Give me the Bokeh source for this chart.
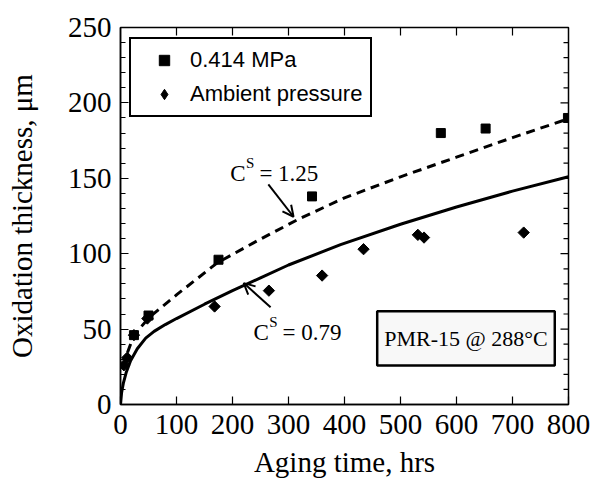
import numpy as np
from bokeh.plotting import figure
from bokeh.models import (Range1d, LinearAxis, SingleIntervalTicker, Legend, LegendItem,
                          Arrow, OpenHead, Label, BoxAnnotation)
from bokeh.embed import file_html
from bokeh.resources import INLINE

# ---------------- data ----------------
mpa_time = [24, 50, 175, 342, 572, 652, 799]
mpa_thick = [46, 59, 96, 138, 180, 183, 190]
amb_time = [6, 12, 24, 48, 168, 265, 360, 434, 531, 542, 720]
amb_thick = [26, 31, 46, 57, 65, 75.5, 85.5, 103, 112.5, 110.7, 114]
fit_low_time = [0, 2, 5, 10, 18, 30, 45, 60, 80, 100, 150, 200, 250, 300, 393, 500, 600, 700, 800]
fit_low = [0, 8, 14, 21, 29, 37, 44, 48.5, 53, 57, 66.5, 75.5, 84, 92.5, 106, 119.5, 131, 141.5, 151]
fit_high_time = [5, 12, 24, 52, 101, 173, 244, 321, 400, 500, 600, 700, 800]
fit_high = [25, 34, 46, 58, 73, 94, 108.5, 123.5, 137, 151, 164, 177, 189.5]
x_major_ticks = [100, 200, 300, 400, 500, 600, 700]
y_major_ticks = [50, 100, 150, 200]
y_minor_ticks = [10, 20, 30, 40, 60, 70, 80, 90, 110, 120, 130, 140,
                 160, 170, 180, 190, 210, 220, 230, 240]

SERIF = "Liberation Serif"
SANS = "Liberation Sans"

p = figure(width=595, height=480, x_range=Range1d(0, 800), y_range=Range1d(0, 250),
           output_backend="svg", toolbar_location=None,
           min_border_left=120, min_border_right=27, min_border_top=27, min_border_bottom=76,
           x_axis_location=None, y_axis_location=None)
p.grid.visible = False
p.outline_line_color = "black"
p.outline_line_width = 1.5
p.background_fill_color = "white"
p.border_fill_color = "white"


def style_axis(ax, minor, interval):
    ax.ticker = SingleIntervalTicker(interval=interval, num_minor_ticks=minor)
    ax.axis_line_color = "black"
    ax.axis_line_width = 1.5
    ax.major_tick_in = 8
    ax.major_tick_out = 0
    ax.major_tick_line_width = 1.2
    ax.minor_tick_in = 5 if minor else 0
    ax.minor_tick_out = 0
    ax.minor_tick_line_width = 1.2
    ax.major_label_text_font = SERIF
    ax.major_label_text_font_size = "29px"
    ax.major_label_text_color = "black"
    ax.axis_label_text_font = SERIF
    ax.axis_label_text_font_size = "29px"
    ax.axis_label_text_font_style = "normal"
    ax.axis_label_text_color = "black"


xb = LinearAxis(axis_label="Aging time, hrs")
style_axis(xb, 0, 100)
xb.major_label_standoff = 10
xb.axis_label_standoff = 9
p.add_layout(xb, "below")

yl = LinearAxis(axis_label="Oxidation thickness, \u03bcm")
style_axis(yl, 5, 50)
yl.major_label_standoff = 9
yl.axis_label_standoff = 27
p.add_layout(yl, "left")

# inward ticks on the top and right edges of the frame
p.ray(x=x_major_ticks, y=250, length=8, angle=-np.pi / 2, length_units="screen",
      line_color="black", line_width=1.2)
p.ray(x=800, y=y_major_ticks, length=8, angle=np.pi, length_units="screen",
      line_color="black", line_width=1.2)
p.ray(x=800, y=y_minor_ticks, length=5, angle=np.pi, length_units="screen",
      line_color="black", line_width=1.2)

# fits
p.line(fit_high_time, fit_high, line_color="black", line_width=3, line_dash="9 6")
p.line(fit_low_time, fit_low, line_color="black", line_width=3)

# data
r_mpa = p.scatter(mpa_time, mpa_thick, marker="square", size=9, fill_color="black", line_color="black")
p.scatter(amb_time, amb_thick, marker="square", angle=np.pi / 4, size=8,
          fill_color="black", line_color="black")
# legend-only glyph (diamond) for the ambient series
r_amb_leg = p.scatter(x=[np.nan], y=[np.nan], marker="diamond", size=12,
                      fill_color="black", line_color="black")

legend = Legend(items=[LegendItem(label="0.414 MPa", renderers=[r_mpa]),
                       LegendItem(label="Ambient pressure", renderers=[r_amb_leg])],
                location=(9, 287))
legend.label_text_font = SANS
legend.label_text_font_size = "22px"
legend.label_text_color = "black"
legend.border_line_color = "black"
legend.border_line_width = 2.5
legend.border_line_alpha = 1
legend.background_fill_color = "white"
legend.background_fill_alpha = 1
legend.padding = 8
legend.margin = 0
legend.spacing = 8
legend.glyph_width = 50
legend.glyph_height = 26
legend.label_height = 24
legend.label_standoff = 1
p.add_layout(legend, "center")

# annotations
p.add_layout(Arrow(end=OpenHead(size=11, line_width=2), x_start=264, y_start=146, x_end=309, y_end=124.5,
                   line_width=2))
p.add_layout(Arrow(end=OpenHead(size=11, line_width=2), x_start=268, y_start=64.5, x_end=220, y_end=80.5,
                   line_width=2))


def cs_label(x0, y0, txt, size):
    p.add_layout(Label(x=x0, y=y0, text="C", text_font=SERIF, text_font_size=f"{size}px",
                       text_color="black", text_baseline="alphabetic", text_align="left"))
    p.add_layout(Label(x=x0 + 28, y=y0 + 6.5, text="S", text_font=SERIF, text_font_size="15px",
                       text_color="black", text_baseline="alphabetic", text_align="left"))
    p.add_layout(Label(x=x0 + 52, y=y0, text=txt, text_font=SERIF, text_font_size=f"{size}px",
                       text_color="black", text_baseline="alphabetic", text_align="left"))


cs_label(196, 153.4, "= 1.25", 23)
cs_label(237.5, 47.9, "= 0.79", 23)

p.add_layout(BoxAnnotation(left=458.4, right=775.5, bottom=25.9, top=61.9, fill_color="#f8f8f8",
                           fill_alpha=1, line_color="black", line_alpha=1, line_width=2.5))
p.add_layout(Label(x=617, y=43.9, text="PMR-15 @ 288\u00b0C", text_font=SERIF, text_font_size="22px",
                   text_color="black", text_align="center", text_baseline="middle"))

open("out.html", "w").write(file_html(p, INLINE))
